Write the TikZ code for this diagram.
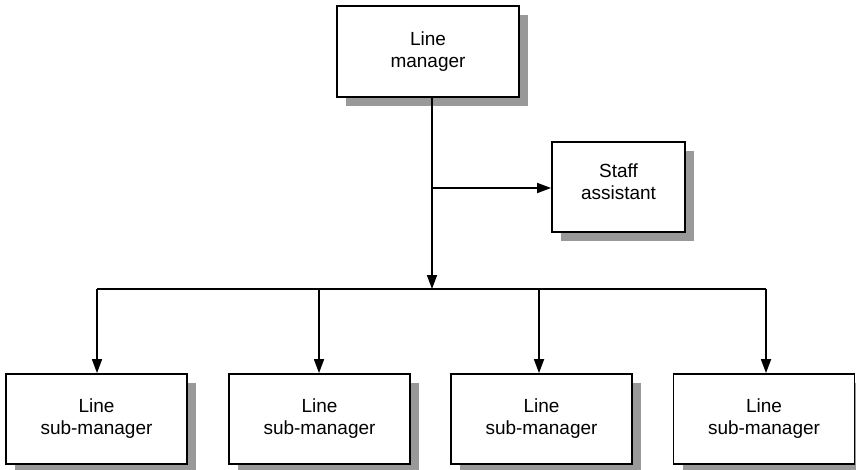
\documentclass[tikz,border=0pt]{standalone}
\usepackage{fontspec}
\setmainfont{Liberation Sans}
\usetikzlibrary{arrows.meta,shadows}
\begin{document}
\begin{tikzpicture}[x=1pt,y=-1pt,
  orgbox/.style={draw=black,line width=1.8pt,fill=white,align=center,
    font=\fontsize{19}{22}\selectfont,inner sep=0pt,
    drop shadow={shadow xshift=9pt,shadow yshift=-9pt,fill=black!40,opacity=1}},
  link/.style={line width=1.7pt,-{Triangle[length=14pt,width=10pt]}},
  bus/.style={line width=1.7pt}]
\useasboundingbox (0,0) rectangle (856,469);

% top of the hierarchy
\node[orgbox,minimum width=182pt,minimum height=91pt] (lm) at (428,51.5) {Line\\manager};
% staff position beside the line of authority
\node[orgbox,minimum width=133pt,minimum height=90pt] (sa) at (618.5,187) {};
\node[font=\fontsize{19}{22}\selectfont,align=center] (satext) at (618.5,182) {Staff\\assistant};

% line sub-managers
\foreach \i/\x in {1/96.5,2/319.5,3/541.5,4/764}{
  \node[orgbox,minimum width=181pt,minimum height=90pt] (sm\i) at (\x,419) {Line\\sub-manager};
}

% authority line and distribution bus
\coordinate (top) at (432,97);
\coordinate (junc) at (432,289);
\coordinate (tap) at (432,188);
\draw[link] (top) -- (junc);
\draw[link] (tap) -- (tap -| sa.west);
\coordinate (b1) at (97,289);
\coordinate (b2) at (319,289);
\coordinate (b3) at (539,289);
\coordinate (b4) at (766,289);
\draw[bus] (b1) -- (b4);
\draw[link] (b1) -- (b1 |- sm1.north);
\draw[link] (b2) -- (b2 |- sm2.north);
\draw[link] (b3) -- (b3 |- sm3.north);
\draw[link] (b4) -- (b4 |- sm4.north);
\end{tikzpicture}
\end{document}
